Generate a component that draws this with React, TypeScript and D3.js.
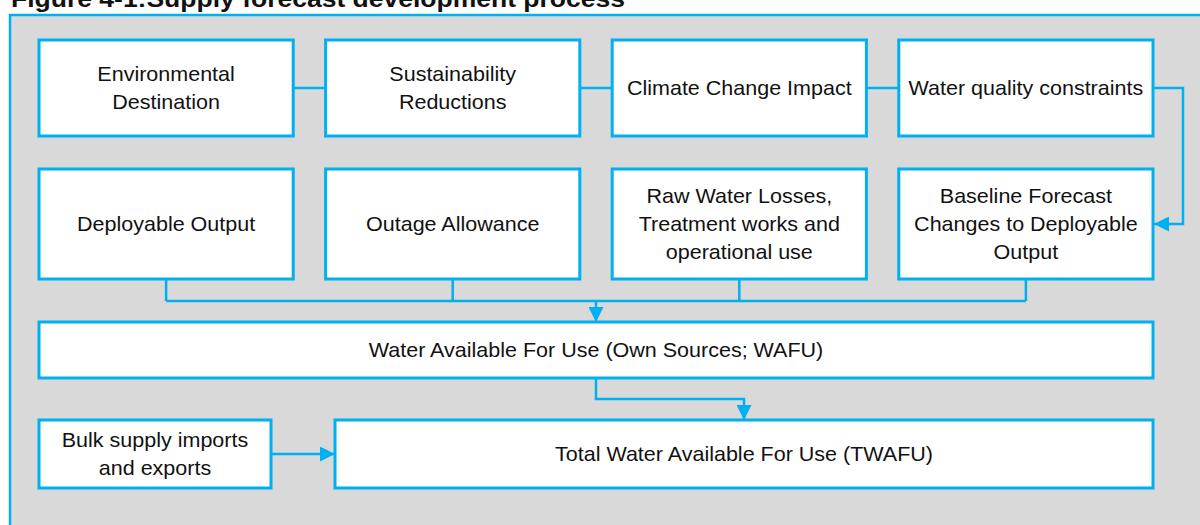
import React from "react";
import * as d3 from "d3";

// ---- data ----
const title = "Figure 4-1:Supply forecast development process";
const topRowLabels = [
  ["Environmental", "Destination"],
  ["Sustainability", "Reductions"],
  ["Climate Change Impact"],
  ["Water quality constraints"],
];
const secondRowLabels = [
  ["Deployable Output"],
  ["Outage Allowance"],
  ["Raw Water Losses,", "Treatment works and", "operational use"],
  ["Baseline Forecast", "Changes to Deployable", "Output"],
];
const wafuLabel = ["Water Available For Use (Own Sources; WAFU)"];
const bulkLabel = ["Bulk supply imports", "and exports"];
const twafuLabel = ["Total Water Available For Use (TWAFU)"];
const columns = [0, 1, 2, 3];

// ---- layout ----
const W = 1200;
const H = 525;
const BLUE = "#00B0F0";
const GREY = "#D9D9D9";
const FONT = "'Liberation Sans', Arial, Helvetica, sans-serif";

const x = d3.scaleBand<number>().domain(columns).range([39, 1153]).paddingInner(0.113).paddingOuter(0);
const y = d3
  .scaleOrdinal<string, [number, number]>()
  .domain(["top", "second", "wafu", "bottom"])
  .range([
    [40, 136],
    [169, 279],
    [322, 378],
    [420, 488],
  ]);

type Box = { key: string; x0: number; x1: number; y0: number; y1: number; lines: string[] };

function Label({ b }: { b: Box }) {
  const cx = (b.x0 + b.x1) / 2;
  const cy = (b.y0 + b.y1) / 2;
  const lh = 28;
  const n = b.lines.length;
  return (
    <text
      textAnchor="middle"
      fontFamily={FONT}
      fontSize={20.5}
      fill="#111"
      transform={`translate(${cx},0) scale(1.05,1) translate(${-cx},0)`}
    >
      {b.lines.map((l, i) => (
        <tspan key={i} x={cx} y={cy + (i - (n - 1) / 2) * lh + 7}>
          {l}
        </tspan>
      ))}
    </text>
  );
}

export default function App() {
  const [t0, t1] = y("top");
  const [s0, s1] = y("second");
  const [w0, w1] = y("wafu");
  const [b0, b1] = y("bottom");
  const boxes: Box[] = [];
  topRowLabels.forEach((lines, i) =>
    boxes.push({ key: "t" + i, x0: x(i)!, x1: x(i)! + x.bandwidth(), y0: t0, y1: t1, lines })
  );
  secondRowLabels.forEach((lines, i) =>
    boxes.push({ key: "s" + i, x0: x(i)!, x1: x(i)! + x.bandwidth(), y0: s0, y1: s1, lines })
  );
  const left = x(0)!;
  const right = x(3)! + x.bandwidth();
  boxes.push({ key: "wafu", x0: left, x1: right, y0: w0, y1: w1, lines: wafuLabel });
  boxes.push({ key: "bulk", x0: left, x1: 271, y0: b0, y1: b1, lines: bulkLabel });
  boxes.push({ key: "twafu", x0: 335, x1: right, y0: b0, y1: b1, lines: twafuLabel });

  const midTop = (t0 + t1) / 2;
  const wafuMid = (left + right) / 2;
  const mergeY = 301;
  const line = d3.line();

  const connectors: [number, number][][] = [];
  for (let i = 0; i < 3; i++) {
    connectors.push([
      [x(i)! + x.bandwidth(), midTop],
      [x(i + 1)!, midTop],
    ]);
  }
  secondRowLabels.forEach((_, i) => {
    const cx = x(i)! + x.bandwidth() / 2;
    connectors.push([
      [cx, s1],
      [cx, mergeY],
    ]);
  });
  connectors.push([
    [x(0)! + x.bandwidth() / 2, mergeY],
    [x(3)! + x.bandwidth() / 2, mergeY],
  ]);

  const arrows: [number, number][][] = [
    [
      [right, midTop],
      [1183, midTop],
      [1183, (s0 + s1) / 2],
      [right + 1, (s0 + s1) / 2],
    ],
    [
      [wafuMid, mergeY],
      [wafuMid, w0],
    ],
    [
      [wafuMid, w1],
      [wafuMid, 399],
      [744, 399],
      [744, b0],
    ],
    [
      [271, (b0 + b1) / 2],
      [335, (b0 + b1) / 2],
    ],
  ];

  return (
    <div style={{ position: "absolute", left: 0, top: 0 }}>
      <svg width={W} height={H} viewBox={`0 0 ${W} ${H}`} style={{ display: "block" }}>
        <defs>
          <marker
            id="arr"
            viewBox="0 0 10 10"
            refX={10}
            refY={5}
            markerWidth={15}
            markerHeight={15}
            markerUnits="userSpaceOnUse"
            orient="auto"
          >
            <path d="M0,0 L10,5 L0,10 Z" fill={BLUE} />
          </marker>
        </defs>
        <rect x={0} y={0} width={W} height={H} fill="#fff" />
        <rect x={10} y={15} width={W + 20} height={H + 20} fill={GREY} stroke={BLUE} strokeWidth={2.5} />
        <text
          x={11}
          y={7}
          fontFamily={FONT}
          fontWeight="bold"
          fontSize={24}
          fill="#111"
          textLength={614}
          lengthAdjust="spacingAndGlyphs"
        >
          {title}
        </text>
        {connectors.map((c, i) => (
          <path key={"c" + i} d={line(c)!} fill="none" stroke={BLUE} strokeWidth={2.5} />
        ))}
        {arrows.map((c, i) => (
          <path key={"a" + i} d={line(c)!} fill="none" stroke={BLUE} strokeWidth={2.5} markerEnd="url(#arr)" />
        ))}
        {boxes.map((b) => (
          <g key={b.key}>
            <rect x={b.x0} y={b.y0} width={b.x1 - b.x0} height={b.y1 - b.y0} fill="#fff" stroke={BLUE} strokeWidth={3} />
            <Label b={b} />
          </g>
        ))}
      </svg>
    </div>
  );
}
